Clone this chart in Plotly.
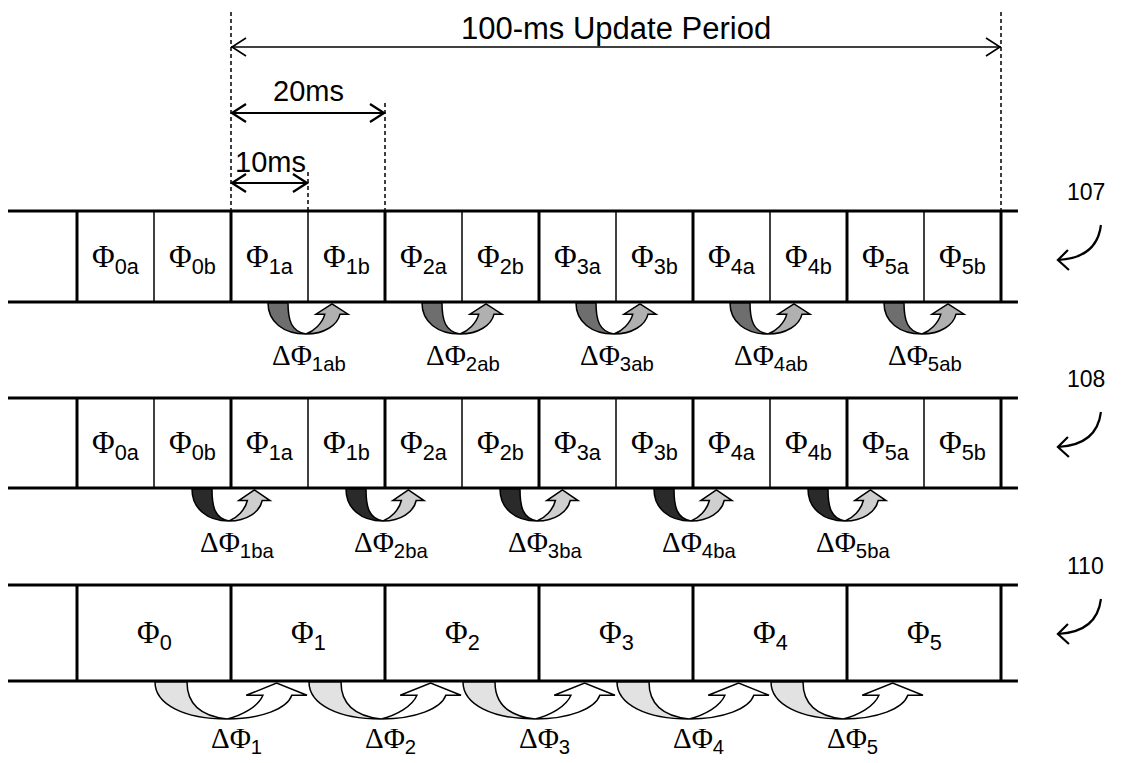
import plotly.graph_objects as go

# ---------------- data ----------------
half_slot_start_ms = [-20, -10, 0, 10, 20, 30, 40, 50, 60, 70, 80, 90]
half_slot_labels = ["0a", "0b", "1a", "1b", "2a", "2b", "3a", "3b", "4a", "4b", "5a", "5b"]
full_slot_start_ms = [-20, 0, 20, 40, 60, 80]
full_slot_labels = ["0", "1", "2", "3", "4", "5"]
half_slot_ms = 10
full_slot_ms = 20
update_period_ms = 100

ab_arrow_at_ms = [10, 30, 50, 70, 90]
ab_labels = ["1ab", "2ab", "3ab", "4ab", "5ab"]
ba_arrow_at_ms = [0, 20, 40, 60, 80]
ba_labels = ["1ba", "2ba", "3ba", "4ba", "5ba"]
full_arrow_at_ms = [0, 20, 40, 60, 80]
full_labels = ["1", "2", "3", "4", "5"]

row_ids = ["107", "108", "110"]

dim_labels = ["100-ms Update Period", "20ms", "10ms"]
dim_start_ms = [0, 0, 0]
dim_end_ms = [100, 20, 10]

track_start_ms = -29
track_end_ms = 102.2

# ---------------- layout constants ----------------
W_PX, H_PX = 1127, 763
PAGE_MARGIN = 8          # default <body> margin of the html page
PX_PER_MS = 7.7
T0_PX = 77               # screen x of t = -20 ms


def t_at(px):
    return (px - T0_PX) / PX_PER_MS - 20


X_LEFT_MS = t_at(PAGE_MARGIN)
X_RIGHT_MS = t_at(PAGE_MARGIN + W_PX)


def ms(px):
    """convert a pixel length into ms along the time axis"""
    return px / PX_PER_MS


row_top = {"107": 211, "108": 398, "110": 585}
row_bot = {"107": 302, "108": 488, "110": 681}

dim_line_y = [47, 113, 183]
dim_dash_top = [12, 103, 172]
dim_text_y = [9, 91, 162]
dim_text_anchor = ["top", "middle", "middle"]
dim_text_size = [31, 29, 29]

SANS = "Liberation Sans, Arial, sans-serif"
SERIF = "Liberation Serif, Times New Roman, serif"

shapes = []
annotations = []


def line(x0, y0, x1, y1, w=3, dash="solid", color="black"):
    shapes.append(dict(type="line", xref="x", yref="y", x0=x0, y0=y0, x1=x1, y1=y1,
                       line=dict(color=color, width=w, dash=dash), layer="above"))


def path(d, fill="rgba(0,0,0,0)", w=1.5, color="black"):
    shapes.append(dict(type="path", xref="x", yref="y", path=d, fillcolor=fill,
                       line=dict(color=color, width=w), layer="above"))


def P(x, y):
    return f"{x:.4f},{y:.2f}"


def text(x, y, s, size=22, xanchor="center", yanchor="middle", family=SANS):
    annotations.append(dict(x=x, y=y, xref="x", yref="y", text=s, showarrow=False,
                            xanchor=xanchor, yanchor=yanchor,
                            font=dict(family=family, size=size, color="black")))


def phi(sub, delta=False):
    d = "Δ" if delta else ""
    return (f'<span style="font-family:{SERIF}">{d}Φ</span>'
            f'<sub>{sub}</sub>')


def curved_arrow(cx, y0, Wpx, D, Bpx, left_fill, right_fill):
    W = ms(Wpx)
    B = ms(Bpx)
    cxb = cx - 0.05 * W
    yb = y0 + D
    # left (tail) band
    d = ("M " + P(cx - W, y0) +
         " C " + P(cx - W, y0 + 0.6 * D) + " " + P(cx - 0.62 * W, yb) + " " + P(cxb, yb) +
         " C " + P(cx - 0.42 * W, y0 + 0.92 * D) + " " + P(cx - W + B, y0 + 0.55 * D) + " " + P(cx - W + B, y0) +
         " Z")
    path(d, fill=left_fill)
    # right band with arrow head
    hb = y0 + 0.36 * D
    d = ("M " + P(cxb, yb) +
         " C " + P(cx + 0.4 * W, yb) + " " + P(cx + 0.74 * W, y0 + 0.72 * D) + " " + P(cx + 0.8 * W, hb) +
         " L " + P(cx + W, hb) +
         " L " + P(cx + 0.6 * W, y0 + 0.03 * D) +
         " L " + P(cx + 0.2 * W, hb) +
         " L " + P(cx + 0.42 * W, hb) +
         " C " + P(cx + 0.36 * W, y0 + 0.66 * D) + " " + P(cx + 0.15 * W, y0 + 0.9 * D) + " " + P(cxb, yb) +
         " Z")
    path(d, fill=right_fill)


# ---------------- dimension arrows at the top ----------------
for lab, s, e, y, dtop, ty, tanc, tsz in zip(dim_labels, dim_start_ms, dim_end_ms, dim_line_y,
                                             dim_dash_top, dim_text_y, dim_text_anchor, dim_text_size):
    lw = 1.3 if e == update_period_ms else 2
    line(s, y, e, y, w=lw)
    hl, hh = ms(15), 9
    path("M " + P(s + hl, y - hh) + " L " + P(s + ms(1), y) + " L " + P(s + hl, y + hh), w=lw + 0.3)
    path("M " + P(e - hl, y - hh) + " L " + P(e - ms(1), y) + " L " + P(e - hl, y + hh), w=lw + 0.3)
    line(e, dtop, e, row_top["107"], w=1.5, dash="4px,3px")
    if e == update_period_ms:
        line(s, dtop, s, row_top["107"], w=1.5, dash="4px,3px")
    if e == dim_end_ms[2]:
        text(s + ms(2), ty, lab, size=tsz, xanchor="left", yanchor=tanc)
    else:
        text((s + e) / 2, ty, lab, size=tsz, yanchor=tanc)

# ---------------- tracks ----------------
for rid in row_ids:
    top, bot = row_top[rid], row_bot[rid]
    line(track_start_ms, top, track_end_ms, top, w=3)
    line(track_start_ms, bot, track_end_ms, bot, w=3)
    if rid == "110":
        bounds = full_slot_start_ms + [full_slot_start_ms[-1] + full_slot_ms]
        for b in bounds:
            line(b, top, b, bot, w=3)
        for s0, lab in zip(full_slot_start_ms, full_slot_labels):
            text(s0 + full_slot_ms / 2, (top + bot) / 2 + 2, phi(lab), size=31)
    else:
        bounds = half_slot_start_ms + [half_slot_start_ms[-1] + half_slot_ms]
        for b in bounds:
            thick = (b % full_slot_ms == 0)
            line(b, top, b, bot, w=3 if thick else 1.5)
        for s0, lab in zip(half_slot_start_ms, half_slot_labels):
            text(s0 + half_slot_ms / 2, (top + bot) / 2 + 2, phi(lab), size=31)

    # reference numeral with curved leader arrow
    lx = track_end_ms + ms(68)
    text(lx, top - 19, rid, size=23)
    ax0, ay0 = track_end_ms + ms(83), top + 14
    ax1, ay1 = track_end_ms + ms(40), top + 49
    path("M " + P(ax0, ay0) + " Q " + P(ax0 - ms(4), ay1 - 2) + " " + P(ax1, ay1), w=2.2)
    path("M " + P(ax1 + ms(10), ay1 - 10) + " L " + P(ax1, ay1) + " L " + P(ax1 + ms(11), ay1 + 10), w=2.2)

# ---------------- difference arrows ----------------
for cx, lab in zip(ab_arrow_at_ms, ab_labels):
    curved_arrow(cx, row_bot["107"] + 1, 40, 31, 20, "#6e6e6e", "#b0b0b0")
    text(cx + ms(1), 357, phi(lab, delta=True), size=29)

for cx, lab in zip(ba_arrow_at_ms, ba_labels):
    curved_arrow(cx, row_bot["108"] + 1, 39, 32, 20, "#2a2a2a", "#cfcfcf")
    text(cx + ms(6), 544, phi(lab, delta=True), size=29)

for cx, lab in zip(full_arrow_at_ms, full_labels):
    curved_arrow(cx, row_bot["110"] + 1, 76, 37, 32, "#e2e2e2", "#ffffff")
    text(cx + ms(5), 740, phi(lab, delta=True), size=29)

fig = go.Figure()
fig.add_trace(go.Scatter(x=[X_LEFT_MS, X_RIGHT_MS], y=[PAGE_MARGIN, PAGE_MARGIN + H_PX], mode="markers",
                         marker=dict(opacity=0), hoverinfo="skip", showlegend=False))
fig.update_layout(
    width=W_PX, height=H_PX,
    margin=dict(l=0, r=0, t=0, b=0),
    paper_bgcolor="white", plot_bgcolor="white",
    xaxis=dict(range=[X_LEFT_MS, X_RIGHT_MS], visible=False, fixedrange=True),
    yaxis=dict(range=[PAGE_MARGIN + H_PX, PAGE_MARGIN], visible=False, fixedrange=True),
    shapes=shapes, annotations=annotations, showlegend=False,
)
fig.write_html("out.html")
